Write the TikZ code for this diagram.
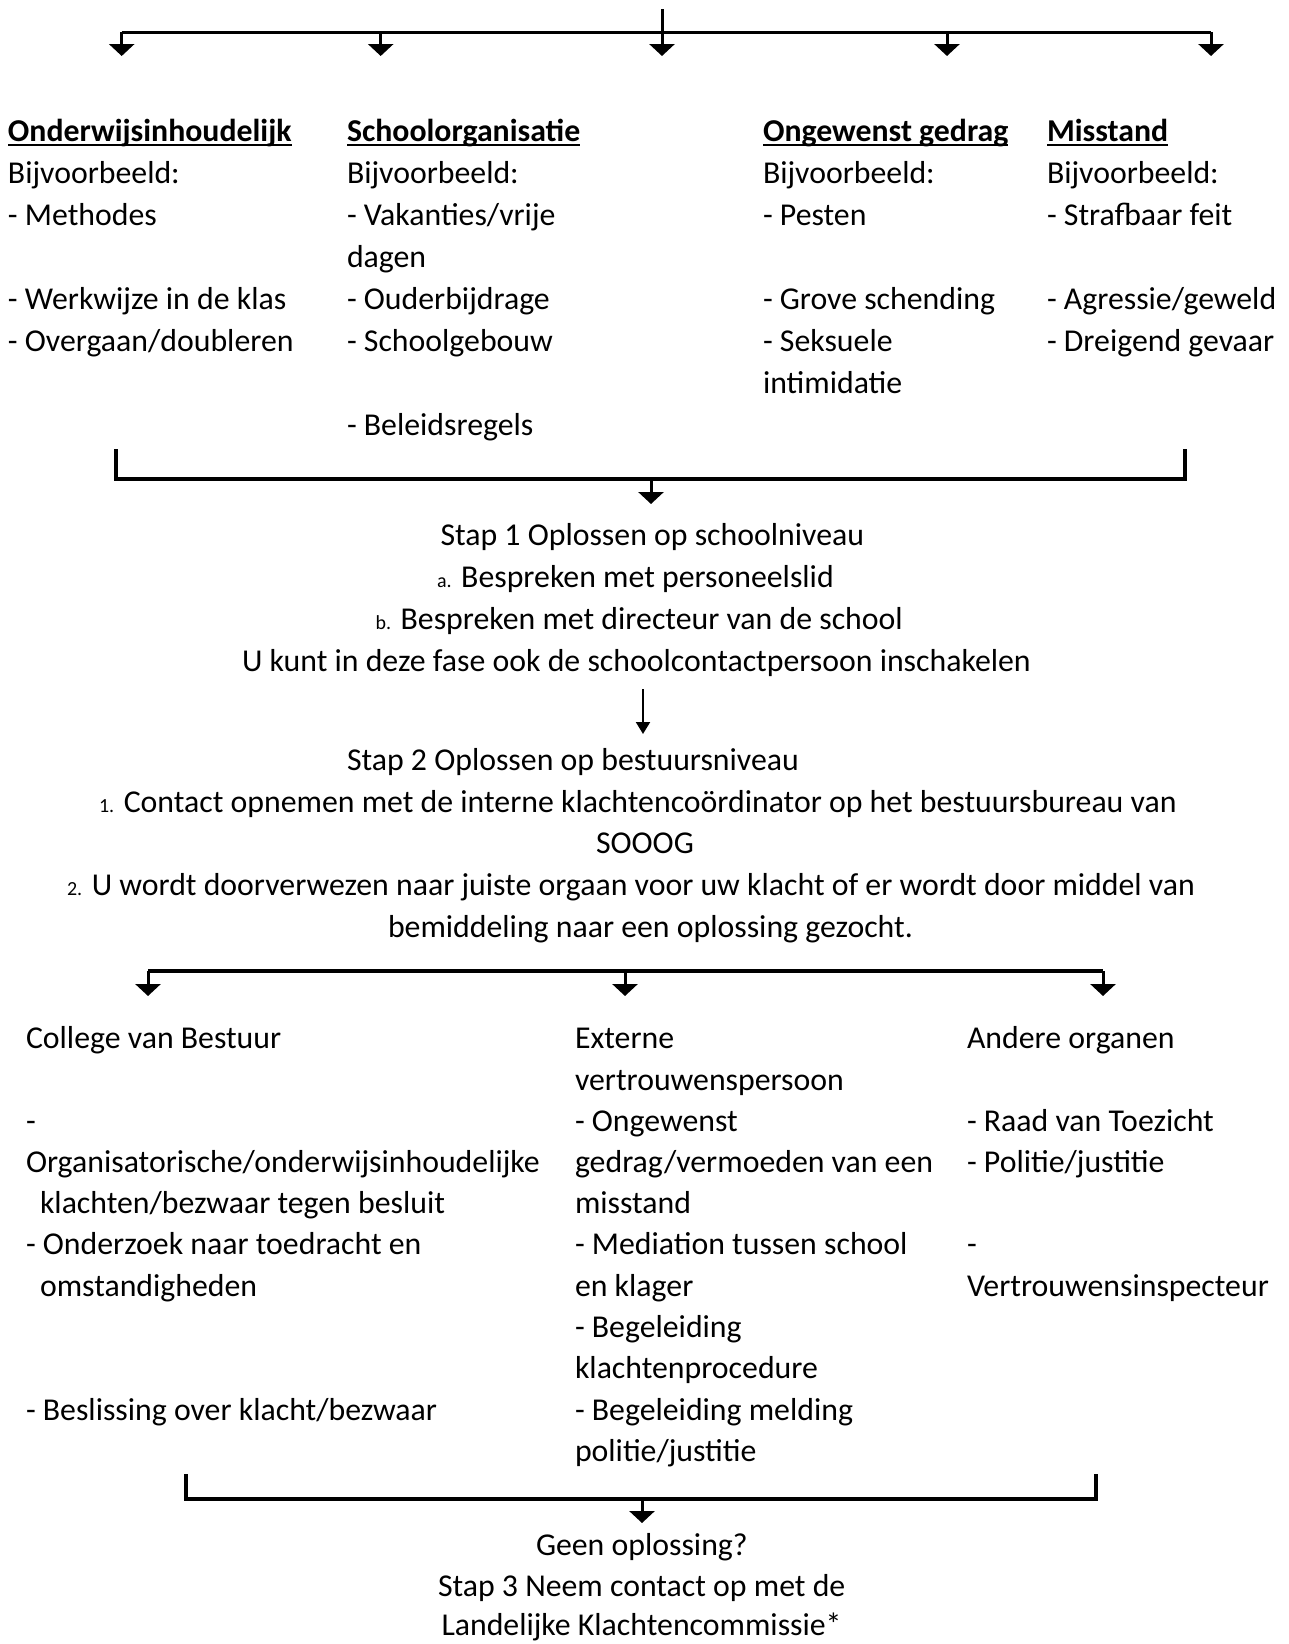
\documentclass[tikz,border=0pt]{standalone}
\usepackage{fontspec}
\setmainfont{Carlito}
\usetikzlibrary{arrows.meta}
\newcommand\smallnum[1]{{\fontsize{20}{20}\selectfont #1}}
\begin{document}
\begin{tikzpicture}[x=1pt,y=-1pt,
  txt/.style={anchor=base west, inner sep=0pt, outer sep=0pt, font=\fontsize{31.8}{38}\selectfont},
  hd/.style={txt, font=\fontsize{31.8}{38}\selectfont\bfseries},
  uline/.style={line width=2pt},
  ln/.style={line width=3pt},
  br/.style={line width=4pt, line join=miter},
  arr/.style={line width=3pt, -{Triangle[width=25pt,length=12pt]}},
  sarr/.style={line width=2pt, -{Triangle[width=14pt,length=12pt]}}]
\fill[white] (0,0) rectangle (1289,1644);
\useasboundingbox (0,0) rectangle (1289,1644);

% ---------- top distributor ----------
\coordinate (top) at (662,9);
\coordinate (j1) at (121.7,32);
\coordinate (j2) at (380.7,32);
\coordinate (j3) at (662,32);
\coordinate (j4) at (947,32);
\coordinate (j5) at (1211,32);
\coordinate (a1) at (121.7,56);
\coordinate (a2) at (380.7,56);
\coordinate (a3) at (662,56);
\coordinate (a4) at (947,56);
\coordinate (a5) at (1211,56);
\draw[ln] (j1) -- (j5);
\draw[ln] (top) -- (j3);
\foreach \i in {1,...,5} {\draw[arr] (j\i) -- (a\i);}

% ---------- four categories ----------
\node[hd] (h1) at (8,141) {Onderwijsinhoudelijk};
\node[txt] (c1r1) at (8,183) {Bijvoorbeeld:};
\node[txt] (c1r2) at (8,225) {- Methodes};
\node[txt] (c1r4) at (8,309) {- Werkwijze in de klas};
\node[txt] (c1r5) at (8,351) {- Overgaan/doubleren};

\node[hd] (h2) at (347,141) {Schoolorganisatie};
\node[txt] (c2r1) at (347,183) {Bijvoorbeeld:};
\node[txt] (c2r2) at (347,225) {- Vakanties/vrije};
\node[txt] (c2r3) at (347,267) {dagen};
\node[txt] (c2r4) at (347,309) {- Ouderbijdrage};
\node[txt] (c2r5) at (347,351) {- Schoolgebouw};
\node[txt] (c2r7) at (347,435) {- Beleidsregels};

\node[hd] (h3) at (763,141) {Ongewenst gedrag};
\node[txt] (c3r1) at (763,183) {Bijvoorbeeld:};
\node[txt] (c3r2) at (763,225) {- Pesten};
\node[txt] (c3r4) at (763,309) {- Grove schending};
\node[txt] (c3r5) at (763,351) {- Seksuele};
\node[txt] (c3r6) at (763,393) {intimidatie};

\node[hd] (h4) at (1047,141) {Misstand};
\node[txt] (c4r1) at (1047,183) {Bijvoorbeeld:};
\node[txt] (c4r2) at (1047,225) {- Strafbaar feit};
\node[txt] (c4r4) at (1047,309) {- Agressie/geweld};
\node[txt] (c4r5) at (1047,351) {- Dreigend gevaar};

\foreach \h in {h1,h2,h3,h4} {\draw[uline] ([yshift=-4pt]\h.base west) -- ([yshift=-4pt]\h.base east);}

% ---------- bracket 1 ----------
\coordinate (b1l) at (116,449);
\coordinate (b1r) at (1185,449);
\coordinate (b1c) at (651,479);
\coordinate (b1t) at (651,504);
\draw[br] (b1l) |- (b1c) -| (b1r);
\draw[arr] (b1c) -- (b1t);

% ---------- step 1 ----------
\node[txt] (s1) at (440.5,545) {Stap 1 Oplossen op schoolniveau};
\node[txt] (s1a) at (437,587) {\smallnum{a.} Bespreken met personeelslid};
\node[txt] (s1b) at (375.5,629) {\smallnum{b.} Bespreken met directeur van de school};
\node[txt] (s1c) at (242,671) {U kunt in deze fase ook de schoolcontactpersoon inschakelen};

\coordinate (m1) at (643,689);
\coordinate (m2) at (643,734);
\draw[sarr] (m1) -- (m2);

% ---------- step 2 ----------
\node[txt] (s2) at (347,770) {Stap 2 Oplossen op bestuursniveau};
\node[txt] (s2a) at (99,812) {\smallnum{1.} Contact opnemen met de interne klachtencoördinator op het bestuursbureau van};
\node[txt] (s2b) at (596,853) {SOOOG};
\node[txt] (s2c) at (67,895) {\smallnum{2.} U wordt doorverwezen naar juiste orgaan voor uw klacht of er wordt door middel van};
\node[txt] (s2d) at (388,937) {bemiddeling naar een oplossing gezocht.};

% ---------- bracket 2 ----------
\coordinate (k1) at (148,971);
\coordinate (k2) at (625,971);
\coordinate (k3) at (1103,971);
\coordinate (t1) at (148,996);
\coordinate (t2) at (625,996);
\coordinate (t3) at (1103,996);
\draw[br] (k1) -- (k3);
\foreach \i in {1,2,3} {\draw[arr] (k\i) -- (t\i);}

% ---------- three bodies ----------
\node[txt] (ca1) at (26,1048) {College van Bestuur};
\node[txt] (ca2) at (26,1131) {-};
\node[txt] (ca3) at (26,1172) {Organisatorische/onderwijsinhoudelijke};
\node[txt] (ca4) at (40,1213) {klachten/bezwaar tegen besluit};
\node[txt] (ca5) at (26,1254) {- Onderzoek naar toedracht en};
\node[txt] (ca6) at (40,1296) {omstandigheden};
\node[txt] (ca7) at (26,1420) {- Beslissing over klacht/bezwaar};

\node[txt] (cb1) at (575,1048) {Externe};
\node[txt] (cb2) at (575,1090) {vertrouwenspersoon};
\node[txt] (cb3) at (575,1131) {- Ongewenst};
\node[txt] (cb4) at (575,1172) {gedrag/vermoeden van een};
\node[txt] (cb5) at (575,1213) {misstand};
\node[txt] (cb6) at (575,1254) {- Mediation tussen school};
\node[txt] (cb7) at (575,1296) {en klager};
\node[txt] (cb8) at (575,1337) {- Begeleiding};
\node[txt] (cb9) at (575,1378) {klachtenprocedure};
\node[txt] (cb10) at (575,1420) {- Begeleiding melding};
\node[txt] (cb11) at (575,1461) {politie/justitie};

\node[txt] (cc1) at (967,1048) {Andere organen};
\node[txt] (cc2) at (967,1131) {- Raad van Toezicht};
\node[txt] (cc3) at (967,1172) {- Politie/justitie};
\node[txt] (cc4) at (967,1254) {-};
\node[txt] (cc5) at (967,1296) {Vertrouwensinspecteur};

% ---------- bracket 3 ----------
\coordinate (b3l) at (186,1474);
\coordinate (b3r) at (1096,1474);
\coordinate (b3c) at (642,1499);
\coordinate (b3t) at (642,1523);
\draw[br] (b3l) |- (b3c) -| (b3r);
\draw[arr] (b3c) -- (b3t);

% ---------- step 3 ----------
\node[txt] (s3a) at (536,1555) {Geen oplossing?};
\node[txt] (s3b) at (438,1596) {Stap 3 Neem contact op met de};
\node[txt] (s3c) at (441.5,1635) {Landelijke Klachtencommissie*};
\end{tikzpicture}
\end{document}
